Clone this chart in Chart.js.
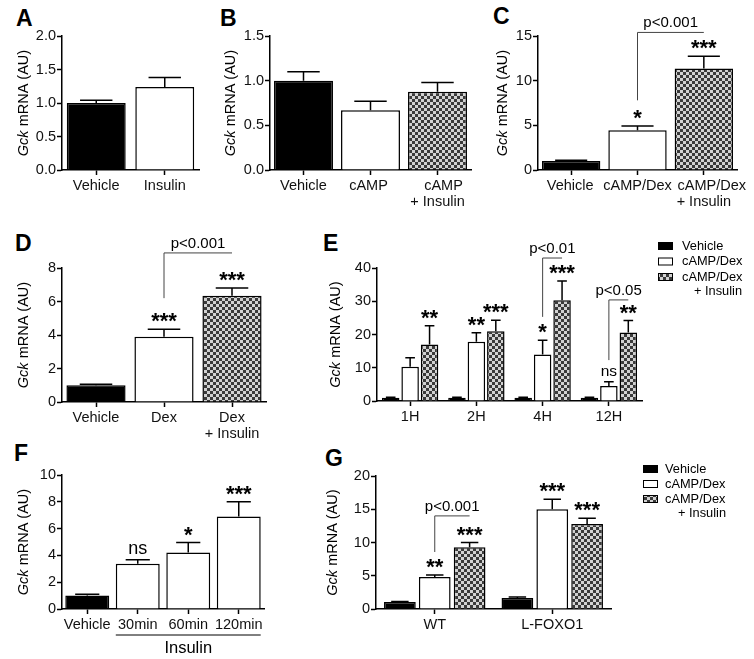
<!DOCTYPE html>
<html>
<head>
<meta charset="utf-8">
<script src="https://cdn.jsdelivr.net/npm/chart.js@4.4.1/dist/chart.umd.min.js"></script>
<style>
  html, body { margin: 0; padding: 0; background: #fff; }
  #fig { position: relative; width: 754px; height: 659px; overflow: hidden; background: #fff; }
  #fig canvas { position: absolute; }
  .lt { position: absolute; font: bold 23px "Liberation Sans", Arial, sans-serif; line-height: 23px; color: #000; }
</style>
</head>
<body>
<div id="fig">
  <div class="lt" style="left:16px;top:7px">A</div>
  <div class="lt" style="left:220px;top:7px">B</div>
  <div class="lt" style="left:493px;top:5px">C</div>
  <div class="lt" style="left:15px;top:232px">D</div>
  <div class="lt" style="left:323px;top:232px">E</div>
  <div class="lt" style="left:14px;top:442px">F</div>
  <div class="lt" style="left:325px;top:447px">G</div>
  <canvas id="cA"></canvas>
  <canvas id="cB"></canvas>
  <canvas id="cC"></canvas>
  <canvas id="cD"></canvas>
  <canvas id="cE"></canvas>
  <canvas id="cF"></canvas>
  <canvas id="cG"></canvas>
</div>
<script>
// --- data -------------------------------------------------------------
const aLabels = ['Vehicle', 'Insulin'];
const aMean   = [1.0, 1.24];
const aSem    = [0.04, 0.14];
const aTicks  = ['0.0', '0.5', '1.0', '1.5', '2.0'];

const bLabels = ['Vehicle', 'cAMP', ['cAMP', '+ Insulin']];
const bMean   = [1.0, 0.67, 0.875];
const bSem    = [0.10, 0.10, 0.105];
const bTicks  = ['0.0', '0.5', '1.0', '1.5'];

const cLabels = ['Vehicle', 'cAMP/Dex', ['cAMP/Dex', '+ Insulin']];
const cMean   = [1.0, 4.45, 11.35];
const cSem    = [0.08, 0.48, 1.37];
const cStars  = ['', '*', '***'];
const cTicks  = ['0', '5', '10', '15'];
const cBracket = { from: [0, 1], to: [0, 2], y: [7.8, 15.4], text: 'p<0.001' };

const dLabels = ['Vehicle', 'Dex', ['Dex', '+ Insulin']];
const dMean   = [1.0, 3.9, 6.34];
const dSem    = [0.06, 0.44, 0.46];
const dStars  = ['', '***', '***'];
const dTicks  = ['0', '2', '4', '6', '8'];
const dBracket = { from: [0, 1], to: [0, 2], y: [6.2, 8.9], text: 'p<0.001' };

const eLabels   = ['1H', '2H', '4H', '12H'];
const eVehMean  = [1.0, 1.0, 1.0, 1.0];
const eVehSem   = [0.1, 0.1, 0.1, 0.1];
const eDexMean  = [10.3, 17.8, 14.0, 4.5];
const eDexSem   = [2.7, 2.7, 4.3, 1.3];
const eInsMean  = [17.0, 21.0, 30.3, 20.6];
const eInsSem   = [5.6, 3.3, 5.8, 3.6];
const eDexStars = ['', '**', '*', 'ns'];
const eInsStars = ['**', '***', '***', '**'];
const eTicks    = ['0', '10', '20', '30', '40'];
const eBrackets = [
  { from: [1, 2], to: [2, 2], y: [25.3, 43.0], text: 'p<0.01' },
  { from: [1, 3], to: [2, 3], y: [12.3, 30.4], text: 'p<0.05' }
];

const fLabels = ['Vehicle', '30min', '60min', '120min'];
const fMean   = [1.0, 3.37, 4.22, 6.9];
const fSem    = [0.1, 0.3, 0.74, 1.1];
const fStars  = ['', 'ns', '*', '***'];
const fTicks  = ['0', '2', '4', '6', '8', '10'];

const gLabels   = ['WT', 'L-FOXO1'];
const gVehMean  = [1.05, 1.65];
const gVehSem   = [0.08, 0.15];
const gDexMean  = [4.8, 15.0];
const gDexSem   = [0.3, 1.5];
const gInsMean  = [9.3, 12.8];
const gInsSem   = [0.7, 0.85];
const gDexStars = ['**', '***'];
const gInsStars = ['***', '***'];
const gTicks    = ['0', '5', '10', '15', '20'];
const gBracket  = { from: [1, 0], to: [2, 0], y: [8.57, 14.0], text: 'p<0.001' };

const seriesNames = ['Vehicle', 'cAMP/Dex', 'cAMP/Dex', '+ Insulin'];

// --- styles -----------------------------------------------------------
const FONT = '"Liberation Sans", Arial, Helvetica, sans-serif';
const Y_W = 56, PAD_T = 45, X_H = 60;
const LH = 1.12;
Chart.defaults.font.family = FONT;
Chart.defaults.font.size = 14.5;
Chart.defaults.color = '#111';

const BLACK = '#000';
const WHITE = '#fff';
const CHECK = (function () {
  const c = document.createElement('canvas');
  c.width = 6; c.height = 6;
  const x = c.getContext('2d');
  x.fillStyle = '#d2d2d2'; x.fillRect(0, 0, 6, 6);
  x.fillStyle = '#3a3a3a'; x.fillRect(0, 0, 3, 3); x.fillRect(3, 3, 3, 3);
  return x.createPattern(c, 'repeat');
})();

// --- plugin: error bars, stars, brackets, y title, legend -------------
const extras = {
  id: 'extras',
  afterDraw(chart, args, o) {
    const ctx = chart.ctx, ys = chart.scales.y, xs = chart.scales.x, area = chart.chartArea;
    const bar = (p) => chart.getDatasetMeta(p[0]).data[p[1]];
    ctx.save();
    ctx.strokeStyle = '#000';
    ctx.fillStyle = '#000';

    // error bars + stars
    chart.data.datasets.forEach((ds, di) => {
      chart.getDatasetMeta(di).data.forEach((el, i) => {
        const top = ys.getPixelForValue(ds.data[i] + ds.sem[i]);
        const cw = el.width * 0.55;
        ctx.lineWidth = 1.5;
        ctx.beginPath();
        ctx.moveTo(el.x, el.y);
        ctx.lineTo(el.x, top);
        ctx.moveTo(el.x - cw / 2, top);
        ctx.lineTo(el.x + cw / 2, top);
        ctx.stroke();
        const s = ds.stars ? ds.stars[i] : '';
        if (!s) return;
        ctx.textAlign = 'center';
        ctx.textBaseline = 'alphabetic';
        if (s === 'ns') {
          ctx.font = (o.nsSize || 15.5) + 'px ' + FONT;
          ctx.fillText(s, el.x, top - 6);
        } else {
          ctx.font = 'bold 22px ' + FONT;
          ctx.fillText(s, el.x, top - 1);
        }
      });
    });

    // x labels drawn by hand where a line is nudged sideways (B, C)
    if (o.labelShift) {
      const lh = 14.5 * LH;
      ctx.font = '14.5px ' + FONT;
      ctx.fillStyle = '#111';
      ctx.textAlign = 'center';
      ctx.textBaseline = 'middle';
      chart.data.labels.forEach((lab, i) => {
        const lines = Array.isArray(lab) ? lab : [lab];
        const cx = xs.getPixelForValue(i);
        lines.forEach((t, k) => {
          const dx = (o.labelShift[i] && o.labelShift[i][k]) || 0;
          ctx.fillText(t, cx + dx, area.bottom + 8 + lh / 2 + k * lh);
        });
      });
      ctx.fillStyle = '#000';
    }

    // brackets
    (o.brackets || []).forEach(b => {
      const x1 = bar(b.from).x, x2 = bar(b.to).x;
      const yb = ys.getPixelForValue(b.y[0]), yt = ys.getPixelForValue(b.y[1]);
      ctx.lineWidth = 1;
      ctx.strokeStyle = '#444';
      ctx.beginPath();
      ctx.moveTo(x1, yb);
      ctx.lineTo(x1, yt);
      ctx.lineTo(x2, yt);
      ctx.stroke();
      ctx.font = '15px ' + FONT;
      ctx.textAlign = 'center';
      ctx.textBaseline = 'alphabetic';
      ctx.fillText(b.text, (x1 + x2) / 2, yt - 5);
    });

    // group underline (panel F)
    if (o.underline) {
      const u = o.underline;
      const m = chart.getDatasetMeta(0).data;
      const xa = m[u.from].x - m[u.from].width / 2, xb = m[u.to].x + m[u.to].width / 2;
      ctx.lineWidth = 1;
      ctx.strokeStyle = '#000';
      ctx.beginPath();
      ctx.moveTo(xa, area.bottom + 26);
      ctx.lineTo(xb, area.bottom + 26);
      ctx.stroke();
      ctx.font = '16.5px ' + FONT;
      ctx.textAlign = 'center';
      ctx.textBaseline = 'alphabetic';
      ctx.fillText(u.text, (xa + xb) / 2, area.bottom + 44);
    }

    // y-axis title, "Gck" in italics
    ctx.save();
    ctx.translate(o.titleX - o.ox, (area.top + area.bottom) / 2);
    ctx.rotate(-Math.PI / 2);
    ctx.textBaseline = 'middle';
    ctx.textAlign = 'left';
    ctx.font = 'italic 14.5px ' + FONT;
    const w1 = ctx.measureText('Gck').width;
    ctx.font = '14.5px ' + FONT;
    const w2 = ctx.measureText(' mRNA (AU)').width;
    const tx = -(w1 + w2) / 2;
    ctx.font = 'italic 14.5px ' + FONT;
    ctx.fillText('Gck', tx, 0);
    ctx.font = '14.5px ' + FONT;
    ctx.fillText(' mRNA (AU)', tx + w1, 0);
    ctx.restore();

    // legend
    if (o.legend) {
      const L = o.legend;
      ctx.font = '12.8px ' + FONT;
      ctx.textBaseline = 'middle';
      chart.data.datasets.forEach((ds, di) => {
        const cy = L.y + di * L.dy - o.oy;
        const sx = L.x - o.ox;
        ctx.fillStyle = ds.backgroundColor;
        ctx.fillRect(sx, cy - 4, 15, 8);
        ctx.lineWidth = 1;
        ctx.strokeStyle = '#000';
        ctx.strokeRect(sx + 0.5, cy - 3.5, 14, 7);
        ctx.fillStyle = '#000';
        ctx.textAlign = 'left';
        ctx.fillText(seriesNames[di], L.textX - o.ox, cy);
      });
      ctx.textAlign = 'right';
      ctx.fillText(seriesNames[3], L.rightX - o.ox, L.y + 2 * L.dy + 14 - o.oy);
    }
    ctx.restore();
  }
};

// --- helpers ----------------------------------------------------------
function yScale(labels) {
  const vals = labels.map(Number);
  return {
    min: 0,
    max: vals[vals.length - 1],
    afterFit: s => { s.width = Y_W; },
    ticks: { stepSize: vals[1] - vals[0], padding: 1, callback: (v, i) => labels[i] },
    grid: { drawOnChartArea: false, tickLength: 5, tickWidth: 1.5, tickColor: '#000' },
    border: { color: '#000', width: 1.5 }
  };
}

function xScale(hideLabels) {
  return {
    afterFit: s => { s.height = X_H; },
    ticks: {
      padding: 3, maxRotation: 0, autoSkip: false, font: { lineHeight: LH },
      color: hideLabels ? 'rgba(0,0,0,0)' : '#111'
    },
    grid: { drawOnChartArea: false, offset: false, tickLength: 5, tickWidth: 1.5, tickColor: '#000' },
    border: { color: '#000', width: 1.5 }
  };
}

function makePanel(id, box, labels, datasets, ticks, extra) {
  const cv = document.getElementById(id);
  const pr = box.pr || 8;
  const left = box.l - Y_W, top = box.t - PAD_T;
  const w = box.r - box.l + Y_W + pr;
  const h = box.b - box.t + PAD_T + X_H;
  cv.width = w; cv.height = h;
  cv.style.left = left + 'px'; cv.style.top = top + 'px';
  cv.style.width = w + 'px'; cv.style.height = h + 'px';
  extra.ox = left; extra.oy = top;
  datasets.forEach(ds => {
    ds.borderColor = '#000';
    ds.borderWidth = 1.5;
  });
  return new Chart(cv, {
    type: 'bar',
    data: { labels: labels, datasets: datasets },
    options: {
      responsive: false,
      animation: false,
      layout: { padding: { top: PAD_T, right: pr, left: 0, bottom: 0 } },
      plugins: { legend: { display: false }, tooltip: { enabled: false }, extras: extra },
      scales: { x: xScale(!!extra.labelShift), y: yScale(ticks) }
    },
    plugins: [extras]
  });
}

function single(mean, sem, stars, fills, bp) {
  return [{ data: mean, sem: sem, stars: stars, backgroundColor: fills, barPercentage: bp, categoryPercentage: 1 }];
}

function triple(vm, vs, dm, dsm, dst, im, ism, ist, cp, bp) {
  return [
    { data: vm, sem: vs, stars: [], backgroundColor: BLACK, categoryPercentage: cp, barPercentage: bp },
    { data: dm, sem: dsm, stars: dst, backgroundColor: WHITE, categoryPercentage: cp, barPercentage: bp },
    { data: im, sem: ism, stars: ist, backgroundColor: CHECK, categoryPercentage: cp, barPercentage: bp }
  ];
}

// --- panels -----------------------------------------------------------
makePanel('cA', { l: 62, r: 199, t: 36, b: 170 }, aLabels,
  single(aMean, aSem, [], [BLACK, WHITE], 0.86), aTicks, { titleX: 24 });

makePanel('cB', { l: 270, r: 471, t: 36, b: 170 }, bLabels,
  single(bMean, bSem, [], [BLACK, WHITE, CHECK], 0.88), bTicks,
  { titleX: 231, labelShift: [[0], [-2], [6, 0]] });

makePanel('cC', { l: 538, r: 737, t: 36, b: 170, pr: 14 }, cLabels,
  single(cMean, cSem, cStars, [BLACK, WHITE, CHECK], 0.88), cTicks,
  { titleX: 503, brackets: [cBracket], labelShift: [[-1], [0], [8, 0]] });

makePanel('cD', { l: 62, r: 266, t: 268, b: 402 }, dLabels,
  single(dMean, dSem, dStars, [BLACK, WHITE, CHECK], 0.87), dTicks,
  { titleX: 24, brackets: [dBracket] });

makePanel('cE', { l: 377, r: 642, t: 268, b: 401, pr: 112 }, eLabels,
  triple(eVehMean, eVehSem, eDexMean, eDexSem, eDexStars, eInsMean, eInsSem, eInsStars, 0.88, 0.9),
  eTicks,
  { titleX: 336, brackets: eBrackets, nsSize: 15.5,
    legend: { x: 658, y: 246, dy: 15.5, textX: 682, rightX: 742 } });

makePanel('cF', { l: 62, r: 264, t: 475, b: 609 }, fLabels,
  single(fMean, fSem, fStars, [BLACK, WHITE, WHITE, WHITE], 0.87), fTicks,
  { titleX: 24, nsSize: 18, underline: { from: 1, to: 3, text: 'Insulin' } });

makePanel('cG', { l: 376, r: 611, t: 476, b: 609, pr: 143 }, gLabels,
  triple(gVehMean, gVehSem, gDexMean, gDexSem, gDexStars, gInsMean, gInsSem, gInsStars, 0.89, 0.91),
  gTicks,
  { titleX: 333, brackets: [gBracket],
    legend: { x: 643, y: 469, dy: 15, textX: 665, rightX: 726 } });
</script>
</body>
</html>
